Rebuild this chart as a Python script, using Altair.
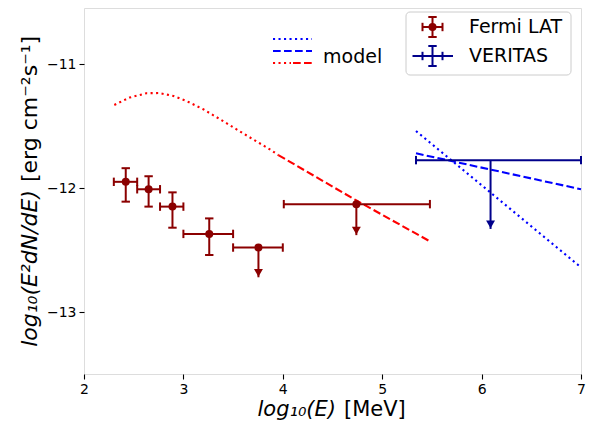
import altair as alt
import pandas as pd

# ---------------- data ----------------
# Fermi LAT points (log10 E [MeV], log10 E^2 dN/dE)
fermi_x = [2.42, 2.65, 2.89, 3.26, 3.755, 4.74]
fermi_y = [-11.95, -12.01, -12.15, -12.37, -12.48, -12.13]
fermi_xlo = [2.30, 2.535, 2.765, 3.00, 3.50, 4.01]
fermi_xhi = [2.535, 2.765, 3.00, 3.50, 4.00, 5.48]
# lower end of the vertical bar (error or upper-limit arrow tip)
fermi_ylo = [-12.11, -12.15, -12.32, -12.54, -12.72, -12.38]
fermi_yhi = [-11.84, -11.905, -12.035, -12.245, -12.48, -12.13]
fermi_ul = [False, False, False, False, True, True]

# VERITAS upper limit
veritas_x = [6.09]
veritas_y = [-11.775]
veritas_xlo = [5.34]
veritas_xhi = [7.0]
veritas_tip = [-12.33]

# model curves
red_dot_x = [2.305, 2.46, 2.63, 2.76, 2.90, 3.03, 3.20, 3.37, 3.535, 3.70, 3.87, 3.955]
red_dot_y = [-11.33, -11.27, -11.235, -11.234, -11.258, -11.298, -11.365,
             -11.446, -11.527, -11.607, -11.688, -11.734]
red_dash_x = [3.955, 4.74, 5.48]
red_dash_y = [-11.734, -12.10, -12.43]
blue_dot_x = [5.34, 7.0]
blue_dot_y = [-11.54, -12.64]
blue_dash_x = [5.34, 7.0]
blue_dash_y = [-11.72, -12.01]

x_ticks = [2, 3, 4, 5, 6, 7]
y_ticks = [-13, -12, -11]

# ---------------- styling ----------------
FONT = "DejaVu Sans"
DR = "#8b0000"
NAVY = "#00008b"
RED = "#ff0000"
BLUE = "#0000ff"
DOT = [2.1, 3.4]
DASH = [7.7, 3.3]
LW = 2.1
PX0, PY0 = 84, 8  # page position of plot origin

xs = alt.Scale(domain=[2, 7], nice=False, zero=False)
ys = alt.Scale(domain=[-13.5, -10.548], nice=False, zero=False)
common_axis = dict(title=None, grid=False, domain=False, tickSize=5, tickWidth=1.1,
                   tickColor="black", labelColor="black", labelFontSize=14,
                   labelFont=FONT, labelPadding=3, labelFlush=False, format="d")
xaxis = alt.Axis(values=x_ticks, **common_axis)
yaxis = alt.Axis(values=y_ticks, **common_axis)


def X(f):
    return alt.X(f, type="quantitative", scale=xs, axis=xaxis)


def Y(f):
    return alt.Y(f, type="quantitative", scale=ys, axis=yaxis)


def line(xv, yv, color, dash):
    df = pd.DataFrame({"x": xv, "y": yv})
    return alt.Chart(df).mark_line(color=color, strokeWidth=LW, strokeDash=dash).encode(
        x=X("x"), y=Y("y"))


fermi = pd.DataFrame({"x": fermi_x, "y": fermi_y, "xlo": fermi_xlo, "xhi": fermi_xhi,
                      "ylo": fermi_ylo, "yhi": fermi_yhi, "ul": fermi_ul})
fermi_err = fermi[~fermi["ul"]]
fermi_lim = fermi[fermi["ul"]]
ver = pd.DataFrame({"x": veritas_x, "y": veritas_y, "xlo": veritas_xlo,
                    "xhi": veritas_xhi, "tip": veritas_tip})

CAP = 4.2
EW = 2.0


def errbars(df, color, ylo, yhi, vcaps_df=None):
    base = alt.Chart(df)
    layers = [
        base.mark_rule(color=color, strokeWidth=EW).encode(x=X("xlo"), x2="xhi", y=Y("y")),
        base.mark_rule(color=color, strokeWidth=EW, yOffset=-CAP, y2Offset=CAP).encode(
            x=X("xlo"), y=Y("y"), y2="y"),
        base.mark_rule(color=color, strokeWidth=EW, yOffset=-CAP, y2Offset=CAP).encode(
            x=X("xhi"), y=Y("y"), y2="y"),
        base.mark_rule(color=color, strokeWidth=EW).encode(x=X("x"), y=Y(ylo), y2=yhi),
    ]
    if vcaps_df is not None and len(vcaps_df):
        vb = alt.Chart(vcaps_df)
        for f in (ylo, yhi):
            layers.append(vb.mark_rule(color=color, strokeWidth=EW, xOffset=-CAP,
                                       x2Offset=CAP).encode(x=X("x"), x2="x", y=Y(f)))
    return layers


def arrows(df, color, f):
    return alt.Chart(df).mark_point(shape="triangle-down", filled=True, size=80, opacity=1,
                                    color=color, yOffset=-4.5).encode(x=X("x"), y=Y(f))


layers = [
    line(red_dot_x, red_dot_y, RED, DOT),
    line(red_dash_x, red_dash_y, RED, DASH),
    line(blue_dot_x, blue_dot_y, BLUE, DOT),
    line(blue_dash_x, blue_dash_y, BLUE, DASH),
]
layers += errbars(fermi, DR, "ylo", "yhi", fermi_err)
layers.append(arrows(fermi_lim, DR, "ylo"))
layers.append(alt.Chart(fermi).mark_point(shape="circle", filled=True, size=64, opacity=1,
                                          color=DR).encode(x=X("x"), y=Y("y")))
layers += errbars(ver, NAVY, "tip", "y")
layers.append(arrows(ver, NAVY, "tip"))

# ---------------- legends & titles (page pixel positions) ----------------
one = pd.DataFrame({"a": [0]})


def hr(x1, x2, y, color, dash=None, w=LW):
    kw = dict(color=color, strokeWidth=w)
    if dash:
        kw["strokeDash"] = dash
    return alt.Chart(one).mark_rule(**kw).encode(
        x=alt.value(x1 - PX0), x2=alt.value(x2 - PX0), y=alt.value(y - PY0))


def vr(x, y1, y2, color, w=EW):
    return alt.Chart(one).mark_rule(color=color, strokeWidth=w).encode(
        x=alt.value(x - PX0), y=alt.value(y1 - PY0), y2=alt.value(y2 - PY0))


def txt(s, x, y, size, align="left", baseline="middle", angle=0, italic=False):
    kw = dict(text=s, font=FONT, fontSize=size, align=align, baseline=baseline, color="black")
    if angle:
        kw["angle"] = angle
    if italic:
        kw["fontStyle"] = "italic"
    return alt.Chart(one).mark_text(**kw).encode(x=alt.value(x - PX0), y=alt.value(y - PY0))


# model legend
layers += [
    hr(273, 312, 39, BLUE, DOT),
    hr(273, 312, 51, BLUE, DASH),
    hr(273, 291, 63, RED, DOT),
    hr(293, 312, 63, RED, DASH),
    txt("model", 323, 57, 19),
]

# data legend box
layers.append(alt.Chart(one).mark_rect(fill="white", fillOpacity=0.8, stroke="#cccccc",
                                       strokeWidth=1, cornerRadius=4).encode(
    x=alt.value(406 - PX0), x2=alt.value(571 - PX0), y=alt.value(12 - PY0), y2=alt.value(75 - PY0)))
# Fermi LAT handle
fy, fx = 27, 432.5
layers += [
    hr(422.5, 442.5, fy, DR, w=EW), vr(422.5, fy - CAP, fy + CAP, DR), vr(442.5, fy - CAP, fy + CAP, DR),
    vr(fx, fy - 10, fy + 10, DR), hr(fx - CAP, fx + CAP, fy - 10, DR, w=EW), hr(fx - CAP, fx + CAP, fy + 10, DR, w=EW),
    alt.Chart(one).mark_point(shape="circle", filled=True, size=64, opacity=1, color=DR).encode(
        x=alt.value(fx - PX0), y=alt.value(fy - PY0)),
    txt("Fermi LAT", 469, fy, 19),
]
vy = 56
layers += [
    hr(412.5, 453, vy, NAVY, w=EW), vr(422.5, vy - CAP, vy + CAP, NAVY), vr(442.5, vy - CAP, vy + CAP, NAVY),
    vr(fx, vy - 10, vy + 10, NAVY), hr(fx - CAP, fx + CAP, vy - 10, NAVY, w=EW), hr(fx - CAP, fx + CAP, vy + 10, NAVY, w=EW),
    txt("VERITAS", 469, vy, 19),
]

# axis titles
layers += [
    txt("log₁₀(E)", 336, 416, 21, align="right", baseline="alphabetic", italic=True),
    txt("[MeV]", 344, 416, 21, align="left", baseline="alphabetic"),
    txt("log₁₀(E²dN/dE)", 30, 190, 22, align="right", angle=270, italic=True),
    txt("[erg cm⁻²s⁻¹]", 30, 182, 22, align="left", angle=270),
]

chart = alt.layer(*layers).properties(
    width=497, height=366,
    padding={"left": 76, "top": 0, "right": 6, "bottom": 48},
    autosize=alt.AutoSizeParams(type="none"),
).configure_view(stroke="black", strokeWidth=1.1).configure(font=FONT)

chart.save("out.html", embed_options={"renderer": "svg", "actions": False})
